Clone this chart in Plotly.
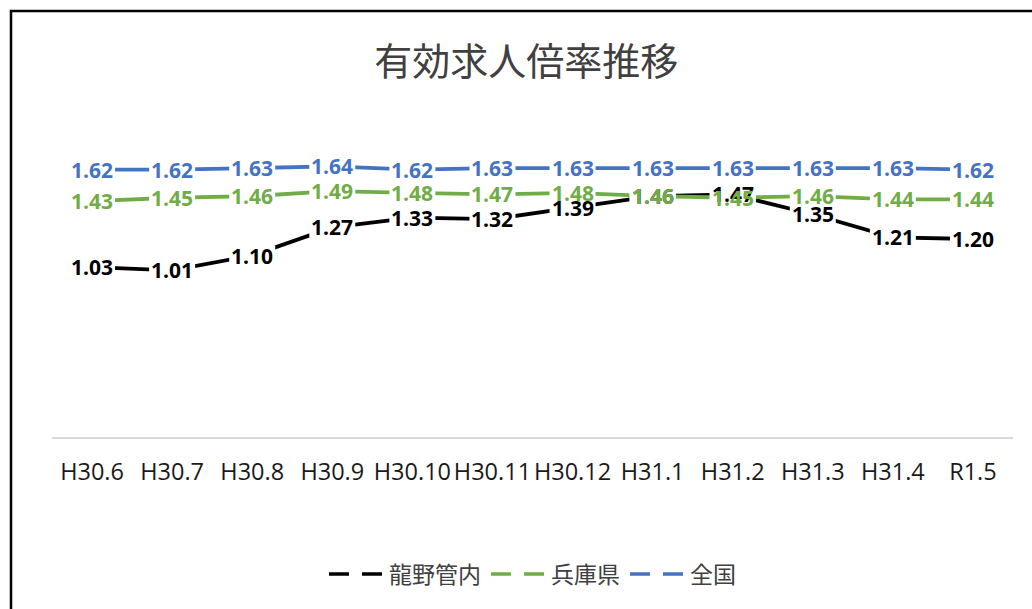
import plotly.graph_objects as go

categories = ["H30.6", "H30.7", "H30.8", "H30.9", "H30.10", "H30.11",
              "H30.12", "H31.1", "H31.2", "H31.3", "H31.4", "R1.5"]
tatsuno = [1.03, 1.01, 1.10, 1.27, 1.33, 1.32, 1.39, 1.46, 1.47, 1.35, 1.21, 1.20]
hyogo = [1.43, 1.45, 1.46, 1.49, 1.48, 1.47, 1.48, 1.46, 1.45, 1.46, 1.44, 1.44]
zenkoku = [1.62, 1.62, 1.63, 1.64, 1.62, 1.63, 1.63, 1.63, 1.63, 1.63, 1.63, 1.62]

series = [
    ("龍野管内", tatsuno, "#000000"),
    ("兵庫県", hyogo, "#70AD47"),
    ("全国", zenkoku, "#4472C4"),
]

fig = go.Figure()
annotations = []
shapes = []
for name, vals, color in series:
    fig.add_trace(go.Scatter(
        x=categories, y=vals, mode="lines", name=name,
        line=dict(color=color, width=3.8), showlegend=False,
        hoverinfo="skip"))
    for c, v in zip(categories, vals):
        # white box behind each label so the line stops at the label
        shapes.append(dict(
            type="rect", xref="x", yref="y", xsizemode="pixel", ysizemode="pixel",
            xanchor=c, yanchor=v, x0=-23, x1=23, y0=-10, y1=10,
            fillcolor="white", line=dict(width=0), layer="above"))
        annotations.append(dict(
            x=c, y=v, xref="x", yref="y", text=f"{v:.2f}", showarrow=False,
            font=dict(family="Open Sans", size=21, color=color, weight="bold"),
            xanchor="center", yanchor="middle"))

# legend entries (dashed symbol as in the reference legend)
for name, vals, color in series:
    fig.add_trace(go.Scatter(
        x=[None], y=[None], mode="lines", name=name,
        line=dict(color=color, width=3.5, dash="20px,13px")))

shapes.append(dict(type="rect", xref="paper", yref="paper",
                   x0=(11 - 52) / 961, x1=(1045 - 52) / 961,
                   y0=(437 - 625) / 297, y1=(437 - 11) / 297,
                   line=dict(color="black", width=2.5), fillcolor="rgba(0,0,0,0)",
                   layer="above"))

fig.update_layout(
    width=1032, height=609,
    margin=dict(l=52, r=19, t=140, b=172),
    paper_bgcolor="white", plot_bgcolor="white",
    title=dict(text="有効求人倍率推移", x=0.51, xanchor="center",
               y=1 - 62 / 609, yanchor="middle", yref="container",
               font=dict(family="Noto Sans CJK JP", size=38, color="#404040")),
    xaxis=dict(type="category", range=[-0.5, 11.5], showgrid=False,
               showline=True, linecolor="#D9D9D9", linewidth=2,
               ticks="", ticklabelstandoff=13, zeroline=False, tickangle=0,
               tickfont=dict(family="Open Sans", size=23.5, color="#1a1a1a")),
    yaxis=dict(range=[0, 1.8], visible=False, showgrid=False, zeroline=False),
    legend=dict(orientation="h", x=0.5, xanchor="center",
                y=(437 - 574) / 297, yanchor="middle",
                font=dict(family="Noto Sans CJK JP", size=23, color="#404040"),
                itemwidth=55),
    annotations=annotations,
    shapes=shapes,
)

fig.write_html("out.html")
